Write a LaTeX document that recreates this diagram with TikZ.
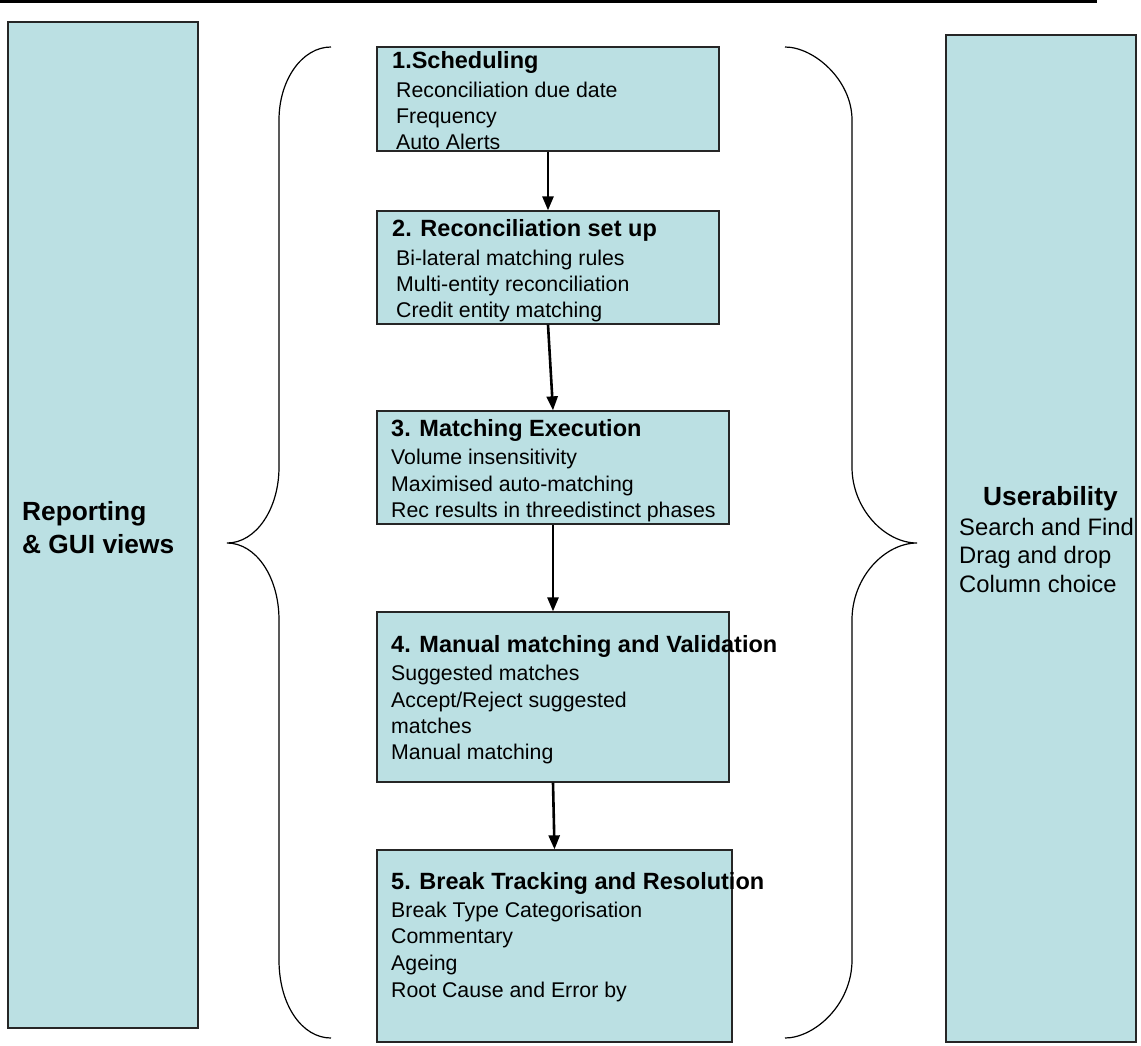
\documentclass[tikz,border=0pt]{standalone}
\usepackage{fontspec}
\setmainfont{Liberation Sans}
\usetikzlibrary{arrows.meta}
\definecolor{boxfill}{RGB}{187,224,227}
\tikzset{
  stepbox/.style={draw=black!85, line width=1.3pt, fill=boxfill, inner sep=0pt},
  ttl/.style={anchor=base west, inner sep=0pt, font=\fontsize{23.5}{26}\selectfont\bfseries},
  bdy/.style={anchor=base west, inner sep=0pt, font=\fontsize{21.3}{26}\selectfont},
  side/.style={anchor=base west, inner sep=0pt, font=\fontsize{26.3}{30}\selectfont\bfseries},
  sidebody/.style={anchor=base west, inner sep=0pt, font=\fontsize{23.8}{29}\selectfont},
  flow/.style={line width=2.6pt, -{Triangle[width=11pt,length=14pt]}},
  brace/.style={line width=1.2pt, black}
}
\begin{document}
\begin{tikzpicture}[x=1pt,y=-1pt]
\useasboundingbox (0,0) rectangle (1141,1045);
% top rule
\coordinate (rl) at (0,1.5);
\coordinate (rr) at (1097,1.5);
\draw[line width=3pt] (rl) -- (rr);

% side panels
\node[stepbox, minimum width=190pt, minimum height=1006pt] (left) at (103,525) {};
\node[stepbox, minimum width=190pt, minimum height=1007pt] (right) at (1041,538.5) {};

\node[side] (lt1) at (22,520) {Reporting};
\node[side] (lt2) at (22,553) {\& GUI views};

\node[side] (rt1) at (983,505) {Userability};
\node[sidebody] (rt2) at (959,535) {Search and Find};
\node[sidebody] (rt3) at (959,563) {Drag and drop};
\node[sidebody] (rt4) at (959,592) {Column choice};

% braces
\draw[brace] (331,47) .. controls (302,47) and (279,80) .. (279,120)
  -- (279,467) .. controls (279,509) and (256,543) .. (227,543)
  .. controls (256,543) and (279,577) .. (279,620)
  -- (279,960) .. controls (279,1005) and (302,1038) .. (331,1038);
\draw[brace] (785,47) .. controls (814,47) and (852,80) .. (852,120)
  -- (852,467) .. controls (852,509) and (885,543) .. (917,543)
  .. controls (885,543) and (852,577) .. (852,620)
  -- (852,960) .. controls (852,1005) and (814,1038) .. (785,1038);

% step boxes
\node[stepbox, minimum width=342pt, minimum height=104pt] (b1) at (548,99) {};
\node[stepbox, minimum width=342pt, minimum height=113pt] (b2) at (548,267.5) {};
\node[stepbox, minimum width=352pt, minimum height=113pt] (b3) at (553,467.5) {};
\node[stepbox, minimum width=352pt, minimum height=170pt] (b4) at (553,697) {};
\node[stepbox, minimum width=355pt, minimum height=192pt] (b5) at (554.5,946) {};

% box 1
\node[ttl] (b1t) at (392,68) {1.Scheduling};
\node[bdy] (b1a) at (396,97) {Reconciliation due date};
\node[bdy] (b1b) at (396,123) {Frequency};
\node[bdy] (b1c) at (396,149) {Auto Alerts};
% box 2
\node[ttl] (b2t) at (392,236) {2. Reconciliation set up};
\node[bdy] (b2a) at (396,265) {Bi-lateral matching rules};
\node[bdy] (b2b) at (396,291) {Multi-entity reconciliation};
\node[bdy] (b2c) at (396,317) {Credit entity matching};
% box 3
\node[ttl] (b3t) at (391,436) {3. Matching Execution};
\node[bdy] (b3a) at (391,464) {Volume insensitivity};
\node[bdy] (b3b) at (391,491) {Maximised auto-matching};
\node[bdy] (b3c) at (391,517) {Rec results in threedistinct phases};
% box 4
\node[ttl] (b4t) at (391,652) {4. Manual matching and Validation};
\node[bdy] (b4a) at (391,680) {Suggested matches};
\node[bdy] (b4b) at (391,707) {Accept/Reject suggested};
\node[bdy] (b4c) at (391,733) {matches};
\node[bdy] (b4d) at (391,759) {Manual matching};
% box 5
\node[ttl] (b5t) at (391,889) {5. Break Tracking and Resolution};
\node[bdy] (b5a) at (391,917) {Break Type Categorisation};
\node[bdy] (b5b) at (391,943) {Commentary};
\node[bdy] (b5c) at (391,970) {Ageing};
\node[bdy] (b5d) at (391,997) {Root Cause and Error by};

% flow arrows
\draw[flow] (b1.south) -- (b2.north);
\draw[flow] (b2.south) -- (b3.north);
\draw[flow] (b3.south) -- (b4.north);
\draw[flow] (b4.south) -- (b5.north);
\end{tikzpicture}
\end{document}
